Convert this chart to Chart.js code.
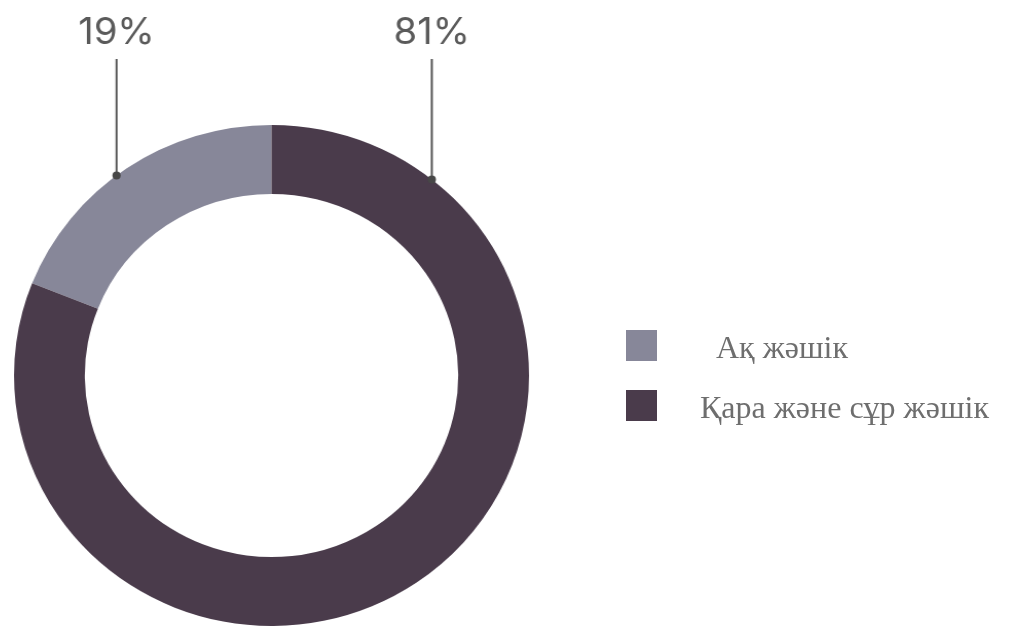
<!DOCTYPE html>
<html>
<head>
<meta charset="utf-8">
<script src="https://cdn.jsdelivr.net/npm/chart.js@4/dist/chart.umd.min.js"></script>
<style>
  html, body { margin: 0; padding: 0; background: #ffffff; overflow: hidden; }
  #wrap { position: relative; width: 1009px; height: 628px; overflow: hidden; }
  #chart { position: absolute; left: 0; top: 0; transform: scaleX(1.028); transform-origin: 271.5px 0; }
  #legend { position: absolute; left: 626px; top: 330px; margin: 0; padding: 0; list-style: none;
            font-family: "Liberation Serif", "Times New Roman", serif; font-size: 32px; color: #6e6e6e; }
  #legend li { display: flex; align-items: flex-end; height: 31px; margin-bottom: 29px; white-space: pre; }
  #legend .box { width: 31px; height: 31px; flex: none; margin-right: 43px; }
  #legend .txt { line-height: 1; position: relative; top: 2px; }
</style>
</head>
<body>
<div id="wrap">
  <canvas id="chart" width="1009" height="660"></canvas>
  <ul id="legend"></ul>
</div>
<script>
// Share of boxes by colour
const categories = ['  Ақ жәшік', 'Қара және сұр жәшік'];
const shares = [19, 81];
const colors = ['#878799', '#4a3b4b'];

// Leader labels: a dot on the outer edge, a vertical line and the percentage above it
const leaderLabels = {
  id: 'leaderLabels',
  afterDatasetsDraw(chart, args, opts) {
    const ctx = chart.ctx;
    const meta = chart.getDatasetMeta(0);
    const data = chart.data.datasets[0].data;
    const total = data.reduce((a, b) => a + b, 0);
    meta.data.forEach((arc, i) => {
      const { x, y, outerRadius } = arc.getProps(['x', 'y', 'outerRadius'], true);
      const a = (opts.angles[i] - 90) * Math.PI / 180;
      const px = x + outerRadius * Math.cos(a);
      const py = y + outerRadius * Math.sin(a);
      ctx.save();
      ctx.strokeStyle = opts.lineColor;
      ctx.lineWidth = 2;
      ctx.beginPath();
      ctx.moveTo(px, py);
      ctx.lineTo(px, opts.lineTop);
      ctx.stroke();
      ctx.fillStyle = opts.dotColor;
      ctx.beginPath();
      ctx.arc(px, py, 4, 0, Math.PI * 2);
      ctx.fill();
      ctx.fillStyle = opts.textColor;
      ctx.font = opts.font;
      ctx.textAlign = 'center';
      ctx.textBaseline = 'alphabetic';
      ctx.fillText(Math.round(data[i] / total * 100) + '%', px, opts.textBaseline);
      ctx.restore();
    });
  }
};

new Chart(document.getElementById('chart'), {
  type: 'doughnut',
  data: {
    labels: categories,
    datasets: [{
      data: shares,
      backgroundColor: colors,
      borderWidth: 0,
      hoverOffset: 0
    }]
  },
  options: {
    responsive: false,
    devicePixelRatio: 1,
    animation: false,
    cutout: '72.5%',
    rotation: -shares[0] * 3.6,
    layout: { padding: { left: 21, right: 487, top: 125, bottom: 34 } },
    plugins: {
      legend: { display: false },
      tooltip: { enabled: false },
      leaderLabels: {
        angles: [-37, 38.5],
        lineTop: 59,
        textBaseline: 44,
        lineColor: '#555555',
        dotColor: '#474747',
        textColor: '#5a5a5a',
        font: '400 37px Inter, "Open Sans", sans-serif'
      }
    }
  },
  plugins: [leaderLabels]
});

// Legend built from the same labels and colours
const legend = document.getElementById('legend');
categories.forEach((label, i) => {
  const li = document.createElement('li');
  const box = document.createElement('span');
  box.className = 'box';
  box.style.background = colors[i];
  const txt = document.createElement('span');
  txt.className = 'txt';
  txt.textContent = label;
  li.appendChild(box);
  li.appendChild(txt);
  legend.appendChild(li);
});
</script>
</body>
</html>
